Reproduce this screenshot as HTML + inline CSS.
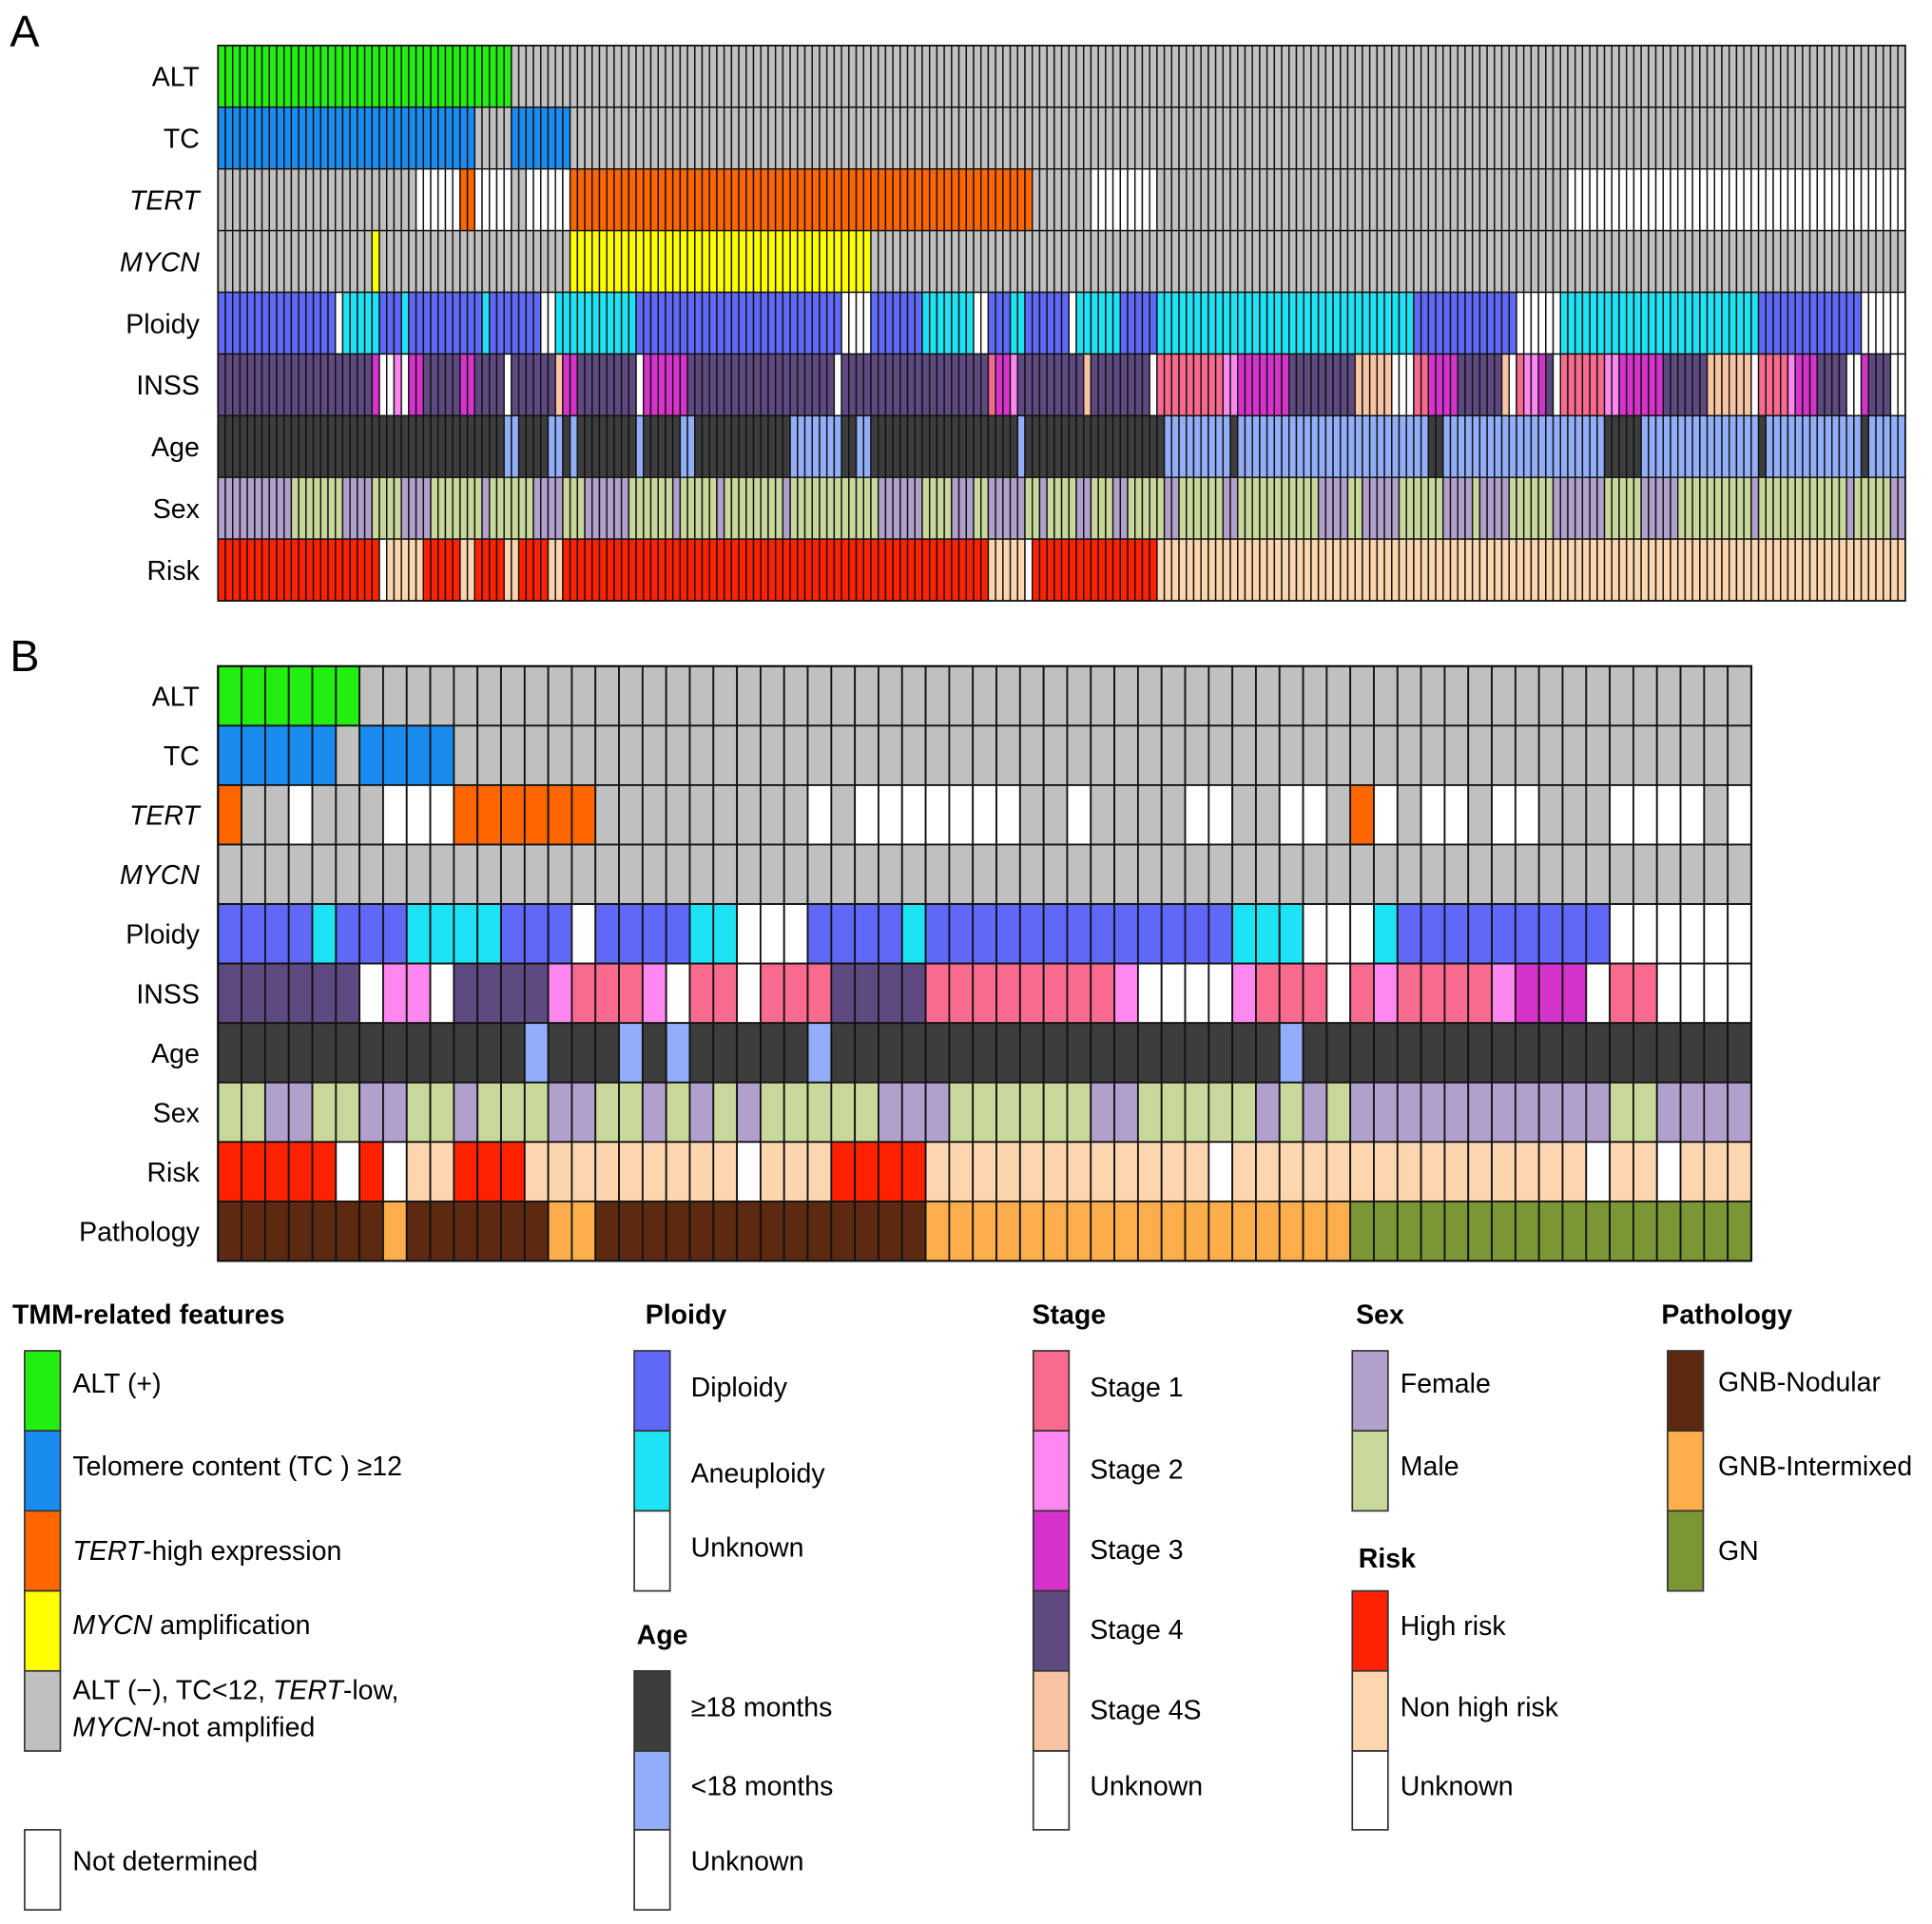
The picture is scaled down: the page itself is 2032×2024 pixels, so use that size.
<!DOCTYPE html>
<html><head><meta charset="utf-8">
<style>
html,body{margin:0;padding:0;background:#fff;}
svg{display:block;}
text{font-family:"Liberation Sans",Arial,sans-serif;fill:#000;}
</style></head>
<body>
<svg id="fig" xmlns="http://www.w3.org/2000/svg" width="2032" height="2024" viewBox="0 0 1568.7 1562.5" preserveAspectRatio="none">
  <text x="8" y="38" font-size="36">A</text>
  <text x="8" y="545" font-size="36">B</text>
  <g id="panelA"></g>
  <g id="panelB"></g>
  <g id="legend"></g>
</svg>
<script>
// ---------- Panel A data (run-length: [code, endColumn]) ----------
const aCols = 230;
const aRowLabels = ["ALT","TC","TERT","MYCN","Ploidy","INSS","Age","Sex","Risk"];
const aALT = [["P",40],["N",230]];
const aTC = [["P",35],["N",40],["P",48],["N",230]];
const aTERT = [["N",27],["U",33],["P",35],["U",40],["N",42],["U",48],["P",111],["N",119],["U",128],["N",184],["U",230]];
const aMYCN = [["N",21],["P",22],["N",48],["P",89],["N",230]];
const aPloidy = [["D",16],["U",17],["A",22],["D",25],["A",26],["D",36],["A",37],["D",44],["U",46],["A",57],["D",85],["U",89],["D",96],["A",103],["U",105],["D",108],["A",110],["D",116],["U",117],["A",123],["D",128],["A",163],["D",177],["U",183],["A",210],["D",224],["U",230]];
const aINSS = [["4",21],["3",22],["U",24],["2",25],["U",26],["3",28],["4",33],["3",35],["4",39],["U",40],["4",46],["S",47],["3",49],["4",57],["U",58],["3",64],["4",84],["U",85],["4",105],["1",106],["3",108],["2",109],["4",118],["S",119],["4",127],["U",128],["1",137],["2",139],["3",146],["4",155],["S",160],["U",163],["1",165],["3",169],["4",175],["S",176],["U",177],["1",178],["2",180],["3",181],["4",182],["U",183],["1",189],["2",191],["3",197],["4",203],["S",209],["U",210],["1",214],["2",215],["3",218],["4",222],["U",224],["3",225],["4",228],["U",230]];
const aAge = [["O",39],["Y",41],["O",45],["Y",47],["O",48],["Y",49],["O",57],["Y",58],["O",63],["Y",65],["O",78],["Y",85],["O",87],["Y",89],["O",109],["Y",110],["O",129],["Y",138],["O",139],["Y",165],["O",167],["Y",189],["O",194],["Y",210],["O",211],["Y",224],["O",225],["Y",230]];
const aSex = [["F",10],["M",17],["F",21],["M",25],["F",29],["M",36],["F",37],["M",43],["F",47],["M",50],["F",56],["M",62],["F",63],["M",68],["F",69],["M",77],["F",78],["M",90],["F",96],["M",100],["F",103],["M",105],["F",110],["M",112],["F",113],["M",117],["F",119],["M",122],["F",124],["M",129],["F",131],["M",137],["F",139],["M",150],["F",154],["M",156],["F",161],["M",167],["F",171],["M",172],["F",176],["M",182],["F",189],["M",194],["F",199],["M",209],["F",210],["M",222],["F",223],["M",228],["F",230]];
const aRisk = [["H",22],["U",23],["N",28],["H",33],["N",35],["H",39],["N",41],["H",45],["N",47],["H",105],["N",110],["U",111],["H",128],["N",230]];

// ---------- Panel B data (one char per patient) ----------
const bRowLabels = ["ALT","TC","TERT","MYCN","Ploidy","INSS","Age","Sex","Risk","Pathology"];
const bALT    = "PPPPPPNNNNNNNNNNNNNNNNNNNNNNNNNNNNNNNNNNNNNNNNNNNNNNNNNNNNNNNNNNN";
const bTC     = "PPPPPNPPPPNNNNNNNNNNNNNNNNNNNNNNNNNNNNNNNNNNNNNNNNNNNNNNNNNNNNNNN";
const bTERT   = "PNNUNNNUUUPPPPPPNNNNNNNNNUNUUUUUUUNNUNNNNUUNNUUNPUNUUNUUNNNUUUUNU";
const bMYCN   = "NNNNNNNNNNNNNNNNNNNNNNNNNNNNNNNNNNNNNNNNNNNNNNNNNNNNNNNNNNNNNNNNN";
const bPloidy = "DDDDADDDAAAADDDUDDDDAAUUUDDDDADDDDDDDDDDDDDAAAUUUADDDDDDDDDUUUUUU";
const bINSS   = "444444U22U444421112U11U1114444111111112UUUU2111U1211112333U11UUUU";
const bAge    = "OOOOOOOOOOOOOYOOOYOYOOOOOYOOOOOOOOOOOOOOOOOOOYOOOOOOOOOOOOOOOOOOO";
const bSex    = "MMFFMMFFMMFMMMFFMMFMFMFMMMMMFFFMMMMMMFFMMMMMFMFMFFFFFFFFFFFMMFFFF";
const bRisk   = "HHHHHUHUNNHHHNNNNNNNNNUNNNHHHHNNNNNNNNNNNNUNNNNNNNNNNNNNNNUNNUNNN";
const bPath   = "NNNNNNNINNNNNNIINNNNNNNNNNNNNNIIIIIIIIIIIIIIIIIIGGGGGGGGGGGGGGGGG";

const C = {
  alt:{P:"#22ee11",N:"#c0c0c0",U:"#ffffff"},
  tc:{P:"#1a8cf0",N:"#c0c0c0",U:"#ffffff"},
  tert:{P:"#ff6600",N:"#c0c0c0",U:"#ffffff"},
  mycn:{P:"#ffff00",N:"#c0c0c0",U:"#ffffff"},
  ploidy:{D:"#6068f8",A:"#1ee3f5",U:"#ffffff"},
  inss:{"1":"#f96a8f","2":"#ff88f0","3":"#d633cc","4":"#5e4a80",S:"#f9c4a4",U:"#ffffff"},
  age:{O:"#3d3d3d",Y:"#92aef8",U:"#ffffff"},
  sex:{F:"#b2a0cc",M:"#c8d89a"},
  risk:{H:"#ff2200",N:"#fdd6b0",U:"#ffffff"},
  path:{N:"#5c2a10",I:"#fcae4a",G:"#7a9635"}
};
const NS="http://www.w3.org/2000/svg";
function mk(tag, attrs, parent){const e=document.createElementNS(NS,tag);for(const k in attrs)e.setAttribute(k,attrs[k]);parent.appendChild(e);return e;}
function expandRuns(runs){let out=[];let s=0;for(const [c,e] of runs){for(let i=s;i<e;i++)out.push(c);s=e;}return out;}

function xScale(x0,x1,n){return i=>x0+(x1-x0)*i/n;}

function drawPanel(g, rows, palettes, labels, x0, x1, y0, rowH, sw, italic){
  const n = rows[0].length;
  const xs = xScale(x0,x1,n);
  rows.forEach((vals,r)=>{
    const y = y0 + r*rowH;
    const lab = mk("text",{x:162,y:y+rowH/2+8,"font-size":22,"text-anchor":"end"},g);
    
    
    if(italic.includes(labels[r])) lab.setAttribute("font-style","italic");
    lab.textContent = labels[r];
    for(let i=0;i<n;i++){
      const rc = mk("rect",{x:xs(i),y:y,width:xs(i+1)-xs(i),height:rowH,fill:palettes[r][vals[i]]||"#fff",stroke:"#111","stroke-width":sw},g);
      
      
    }
  });
  const fr = mk("rect",{x:x0,y:y0,width:x1-x0,height:rowH*rows.length,fill:"none",stroke:"#111","stroke-width":sw*1.2},g);
  
  
}

const pals = [C.alt,C.tc,C.tert,C.mycn,C.ploidy,C.inss,C.age,C.sex,C.risk];
drawPanel(document.getElementById("panelA"),
  [aALT,aTC,aTERT,aMYCN,aPloidy,aINSS,aAge,aSex,aRisk].map(expandRuns),
  pals, aRowLabels, 177, 1547, 37, 50.1, 1.1, ["TERT","MYCN"]);
drawPanel(document.getElementById("panelB"),
  [bALT,bTC,bTERT,bMYCN,bPloidy,bINSS,bAge,bSex,bRisk,bPath].map(s=>s.split("")),
  pals.concat([C.path]), bRowLabels, 177, 1422, 541, 48.3, 1.4, ["TERT","MYCN"]);

// ---------- Legend ----------
const L = document.getElementById("legend");
function title(x,y,t){const e=mk("text",{x:x,y:y,"font-size":22,"font-weight":"bold"},L);e.textContent=t;}
function entry(x,y,h,color,tx,ty,html,name){
  const r=mk("rect",{x:x,y:y,width:29,height:h,fill:color,stroke:"#333","stroke-width":1.3},L);
  
  
  const t=mk("text",{x:tx,y:ty,"font-size":22},L);
  
  
  t.innerHTML=html;
}
title(10,1075,"TMM-related features");
entry(20,1097,65,"#22ee11",59,1131,"ALT (+)","alt");
entry(20,1162,65,"#1a8cf0",59,1198,"Telomere content (TC ) ≥12","tc");
entry(20,1227,65,"#ff6600",59,1267,'<tspan font-style="italic">TERT</tspan>-high expression',"tert");
entry(20,1292,65,"#ffff00",59,1327,'<tspan font-style="italic">MYCN</tspan> amplification',"mycn");
entry(20,1357,65,"#c0c0c0",59,1380,'ALT (−), TC&lt;12, <tspan font-style="italic">TERT</tspan>-low,',"negative");
const t2=mk("text",{x:59,y:1410,"font-size":22},L);t2.innerHTML='<tspan font-style="italic">MYCN</tspan>-not amplified';
entry(20,1486,65,"#ffffff",59,1519,"Not determined","not-determined");

title(524,1075,"Ploidy");
entry(515,1097,65,"#6068f8",561,1134,"Diploidy","diploidy");
entry(515,1162,65,"#1ee3f5",561,1204,"Aneuploidy","aneuploidy");
entry(515,1227,65,"#ffffff",561,1264,"Unknown","ploidy-unknown");
title(517,1335,"Age");
entry(515,1357,65,"#3d3d3d",561,1394,"≥18 months","age-old");
entry(515,1422,64,"#92aef8",561,1458,"&lt;18 months","age-young");
entry(515,1486,65,"#ffffff",561,1519,"Unknown","age-unknown");

title(838,1075,"Stage");
entry(839,1097,65,"#f96a8f",885,1134,"Stage 1","stage1");
entry(839,1162,65,"#ff88f0",885,1201,"Stage 2","stage2");
entry(839,1227,65,"#d633cc",885,1266,"Stage 3","stage3");
entry(839,1292,65,"#5e4a80",885,1331,"Stage 4","stage4");
entry(839,1357,65,"#f9c4a4",885,1396,"Stage 4S","stage4s");
entry(839,1422,64,"#ffffff",885,1458,"Unknown","stage-unknown");

title(1101,1075,"Sex");
entry(1098,1097,65,"#b2a0cc",1137,1131,"Female","female");
entry(1098,1162,65,"#c8d89a",1137,1198,"Male","male");
title(1103,1273,"Risk");
entry(1098,1292,65,"#ff2200",1137,1328,"High risk","high-risk");
entry(1098,1357,65,"#fdd6b0",1137,1394,"Non high risk","non-high-risk");
entry(1098,1422,64,"#ffffff",1137,1458,"Unknown","risk-unknown");

title(1349,1075,"Pathology");
entry(1354,1097,65,"#5c2a10",1395,1130,"GNB-Nodular","gnb-nodular");
entry(1354,1162,65,"#fcae4a",1395,1198,"GNB-Intermixed","gnb-intermixed");
entry(1354,1227,65,"#7a9635",1395,1267,"GN","gn");
</script>
</body></html>
